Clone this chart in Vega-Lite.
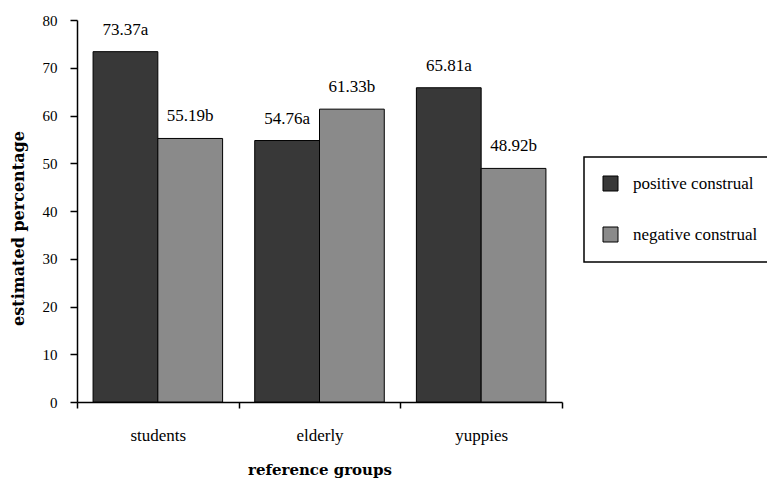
{
  "$schema": "https://vega.github.io/schema/vega-lite/v6.json",
  "width": 485,
  "height": 382,
  "autosize": {"type": "none"},
  "padding": {"left": 77, "top": 20, "right": 205, "bottom": 79},
  "background": "white",
  "data": {
    "values": [
      {"group": "students", "construal": "positive construal", "value": 73.37, "label": "73.37a"},
      {"group": "students", "construal": "negative construal", "value": 55.19, "label": "55.19b"},
      {"group": "elderly", "construal": "positive construal", "value": 54.76, "label": "54.76a"},
      {"group": "elderly", "construal": "negative construal", "value": 61.33, "label": "61.33b"},
      {"group": "yuppies", "construal": "positive construal", "value": 65.81, "label": "65.81a"},
      {"group": "yuppies", "construal": "negative construal", "value": 48.92, "label": "48.92b"}
    ]
  },
  "config": {
    "view": {"stroke": null},
    "font": "Liberation Serif",
    "axis": {
      "grid": false,
      "domainColor": "black",
      "tickColor": "black",
      "labelColor": "black",
      "titleColor": "black",
      "domainWidth": 1.5,
      "tickWidth": 1.5
    }
  },
  "layer": [
    {
      "mark": {"type": "bar", "stroke": "black", "strokeWidth": 1},
      "encoding": {
        "x": {
          "field": "group",
          "type": "nominal",
          "sort": ["students", "elderly", "yuppies"],
          "scale": {"paddingInner": 0, "paddingOuter": 0},
          "axis": {
            "orient": "bottom",
            "title": "reference groups",
            "titleFont": "DejaVu Serif",
            "titleFontWeight": "bold",
            "titleFontSize": 15,
            "titleY": 72,
            "titleBaseline": "alphabetic",
            "labelAngle": 0,
            "labelFontSize": 17,
            "labelBaseline": "middle",
            "labelPadding": 27,
            "tickSize": 6,
            "tickBand": "extent",
            "encode": {"ticks": {"update": {"y": {"value": -6}, "y2": {"value": 6}}}}
          }
        },
        "xOffset": {
          "field": "construal",
          "type": "nominal",
          "sort": ["positive construal", "negative construal"],
          "scale": {"paddingInner": 0, "paddingOuter": 0.248}
        },
        "y": {
          "field": "value",
          "type": "quantitative",
          "scale": {"domain": [0, 80], "nice": false},
          "axis": {
            "orient": "left",
            "title": "estimated percentage",
            "titleFont": "DejaVu Serif",
            "titleFontWeight": "bold",
            "titleFontSize": 16,
            "titleX": -59,
            "titleY": 208,
            "titleAlign": "center",
            "titleBaseline": "middle",
            "values": [0, 10, 20, 30, 40, 50, 60, 70, 80],
            "labelFontSize": 15,
            "labelPadding": 13,
            "tickSize": 7,
            "encode": {"ticks": {"update": {"x": {"value": 7}, "x2": {"value": -7}}}}
          }
        },
        "color": {
          "field": "construal",
          "type": "nominal",
          "sort": ["positive construal", "negative construal"],
          "scale": {"domain": ["positive construal", "negative construal"], "range": ["#383838", "#8a8a8a"]},
          "legend": {
            "title": null,
            "orient": "none",
            "legendX": 507,
            "legendY": 137,
            "strokeColor": "black",
            "fillColor": "white",
            "padding": 18,
            "symbolType": "square",
            "symbolSize": 225,
            "symbolStrokeColor": "black",
            "symbolStrokeWidth": 1,
            "labelFont": "Liberation Serif",
            "labelFontSize": 17,
            "labelColor": "black",
            "labelOffset": 14,
            "labelLimit": 300,
            "rowPadding": 32,
            "encode": {"legend": {"update": {"strokeWidth": {"value": 1.5}}}}
          }
        }
      }
    },
    {
      "mark": {"type": "text", "dy": -17, "fontSize": 17, "baseline": "alphabetic", "color": "black", "font": "Liberation Serif"},
      "encoding": {
        "x": {
          "field": "group",
          "type": "nominal",
          "sort": ["students", "elderly", "yuppies"]
        },
        "xOffset": {"field": "construal", "type": "nominal", "sort": ["positive construal", "negative construal"]},
        "y": {"field": "value", "type": "quantitative"},
        "text": {"field": "label"}
      }
    }
  ]
}
